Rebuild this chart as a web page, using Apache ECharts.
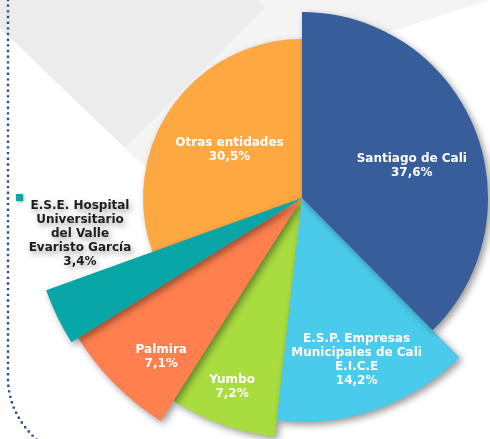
<!DOCTYPE html>
<html>
<head>
<meta charset="UTF-8">
<title>Participación por entidad</title>
<script src="https://cdn.jsdelivr.net/npm/echarts@6/dist/echarts.min.js"></script>
<style>
	html,body{margin:0;padding:0;background:#fff;}
	#main{width:490px;height:439px;}
</style>
</head>
<body>
<div id="main"></div>
<script>
	// datos
	var names = ["Santiago de Cali", "E.S.P. Empresas\nMunicipales de Cali\nE.I.C.E", "Yumbo", "Palmira",
		"E.S.E. Hospital\nUniversitario\ndel Valle\nEvaristo García", "Otras entidades"];
	var values = [37.6, 14.2, 7.2, 7.1, 3.4, 30.5];

	// estilo
	var colors = ["#375e9b", "#4bcbeb", "#a8dc3f", "#ff7f4f", "#08a6a7", "#fda840"];
	var radii = [186, 224, 240, 264, 272, 159];
	var labelShift = [[21, 4], [17, 53], [-29, 73], [-45, 64], [-97, -25], [-5, -1]];
	var drawOrder = [5, 2, 3, 4, 1, 0];

	var myChart = echarts.init(document.getElementById("main"));

	function fmt(v){
		return v.toFixed(1).replace(".", ",") + "%";
	}

	var series = [];
	for(var k=0;k<drawOrder.length;k++){
		var i = drawOrder[k];
		var data = [];
		for(var j=0;j<values.length;j++){
			var on = (j === i);
			data.push({
				value: values[j],
				name: names[j],
				itemStyle: on ? {
					color: colors[j],
					shadowColor: "rgba(0,0,0,0.4)",
					shadowBlur: 7,
					shadowOffsetX: 3,
					shadowOffsetY: 3
				} : {color: "rgba(0,0,0,0)", shadowColor: "rgba(0,0,0,0)"},
				label: {show: on}
			});
		}
		var dark = (i === 4);
		series.push({
			type: "pie",
			silent: true,
			center: [302, 198],
			radius: [0, radii[i]],
			startAngle: 90,
			clockwise: true,
			avoidLabelOverlap: false,
			z: k + 2,
			label: {
				position: "inside",
				formatter: function(p){ return p.name + "\n" + fmt(p.value); },
				color: dark ? "#1e1e1e" : "#ffffff",
				fontFamily: "DejaVu Sans",
				fontWeight: "bold",
				fontSize: 12,
				lineHeight: 14,
				align: "center",
				textShadowColor: dark ? "rgba(0,0,0,0.4)" : "rgba(0,0,0,0)",
				textShadowBlur: dark ? 6 : 0,
				textShadowOffsetX: dark ? 2 : 0,
				textShadowOffsetY: dark ? 3 : 0
			},
			labelLine: {show: false},
			labelLayout: {dx: labelShift[i][0], dy: labelShift[i][1]},
			data: data
		});
	}

	var dots = {fill: null, stroke: "#2c4f92", lineWidth: 2.4, lineDash: [0, 5.67], lineCap: "square"};

	var option = {
		animation: false,
		backgroundColor: "#ffffff",
		graphic: [
			{type: "polygon", z: 0, shape: {points: [[0,0],[0,28],[125,148],[265,8],[258,0]]},
				style: {fill: "#ececec"}},
			{type: "polygon", z: 0, shape: {points: [[258,0],[265,8],[125,148],[170,190],[300,60],[490,0]]},
				style: {fill: "#f4f4f4"}},
			{type: "polyline", z: 1, shape: {points: [[8,0],[8,375]]}, style: dots},
			{type: "bezierCurve", z: 1, shape: {x1: 8, y1: 380, cpx1: 9, cpy1: 414, x2: 37, y2: 440}, style: dots},
			{type: "rect", z: 10, shape: {x: 16, y: 194, width: 7, height: 7},
				style: {fill: colors[4], shadowColor: "rgba(0,0,0,0.35)", shadowBlur: 3, shadowOffsetX: 1, shadowOffsetY: 1}}
		],
		series: series
	};
	myChart.setOption(option);
</script>
</body>
</html>
